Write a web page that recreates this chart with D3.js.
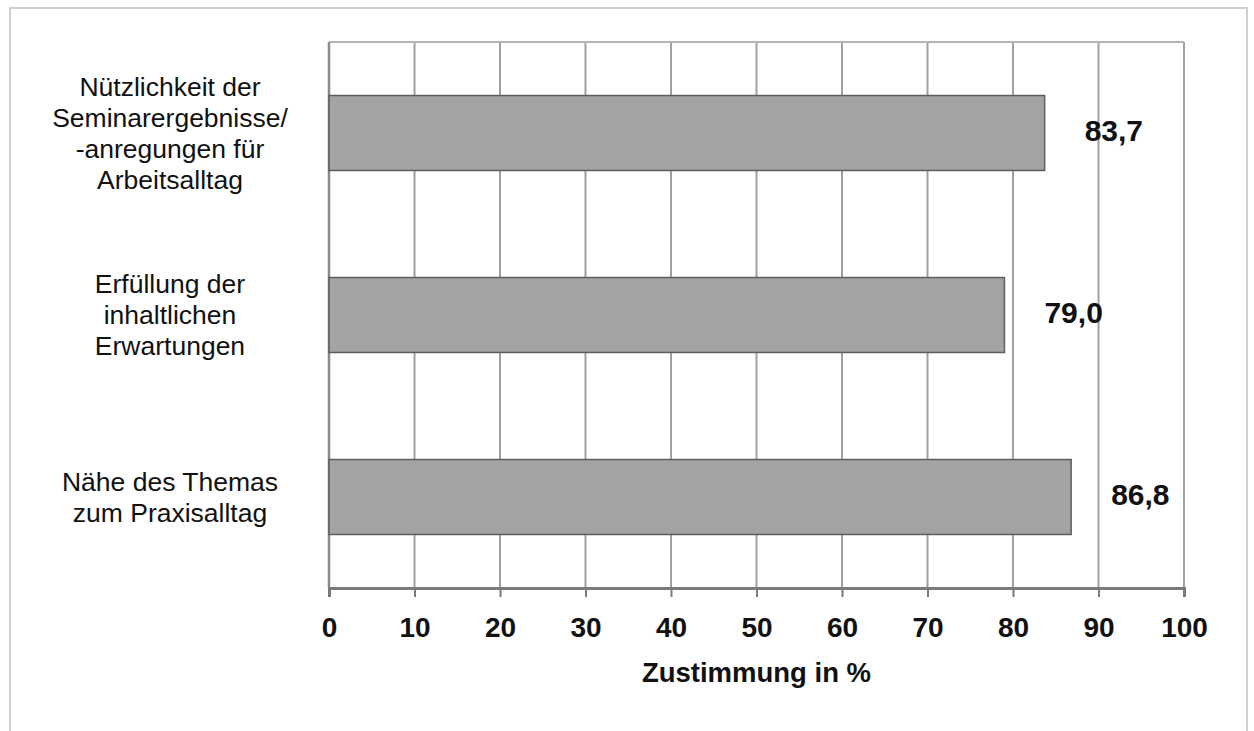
<!DOCTYPE html>
<html lang="de">
<head>
<meta charset="utf-8">
<script src="https://cdn.jsdelivr.net/npm/d3@7"></script>
<style>
  html, body { margin: 0; padding: 0; background: #fff; }
  svg { display: block; }
  text { font-family: "Liberation Sans", Arial, Helvetica, sans-serif; fill: #111; }
</style>
</head>
<body>
<svg id="chart" width="1254" height="731"></svg>
<script>
// Category labels (each entry is one label split into its lines)
const categories = [
  ["Nützlichkeit der", "Seminarergebnisse/", "-anregungen für", "Arbeitsalltag"],
  ["Erfüllung der", "inhaltlichen", "Erwartungen"],
  ["Nähe des Themas", "zum Praxisalltag"]
];
// Agreement in percent, one value per category
const values = [83.7, 79.0, 86.8];
// Axis ticks
const xTicks = [0, 10, 20, 30, 40, 50, 60, 70, 80, 90, 100];
const xTitle = "Zustimmung in %";

const svg = d3.select("#chart");
const W = 1254, H = 731;
const plot = { left: 329, right: 1184, top: 42, bottom: 588 };

const de = d3.formatLocale({ decimal: ",", thousands: ".", grouping: [3], currency: ["", " €"] });
const fmt = de.format(".1f");

// Outer frame (open at the bottom)
svg.append("path")
  .attr("d", `M10,${H} L10,8 L1247,8 L1247,${H}`)
  .attr("fill", "none")
  .attr("stroke", "#cfcfcf")
  .attr("stroke-width", 2);

const x = d3.scaleLinear().domain([0, 100]).range([plot.left, plot.right]);
const y = d3.scaleBand()
  .domain(d3.range(values.length))
  .range([plot.top, plot.bottom])
  .paddingInner(0.588)
  .paddingOuter(0.294);

// Vertical gridlines
svg.append("g")
  .selectAll("line")
  .data(xTicks.filter(d => d > 0))
  .join("line")
  .attr("x1", d => x(d)).attr("x2", d => x(d))
  .attr("y1", plot.top).attr("y2", plot.bottom)
  .attr("stroke", "#a0a0a0")
  .attr("stroke-width", 2);

// Top edge of the plot area
svg.append("line")
  .attr("x1", plot.left).attr("x2", plot.right)
  .attr("y1", plot.top).attr("y2", plot.top)
  .attr("stroke", "#b4b4b4")
  .attr("stroke-width", 2);

// Left axis line
svg.append("line")
  .attr("x1", plot.left).attr("x2", plot.left)
  .attr("y1", plot.top).attr("y2", plot.bottom)
  .attr("stroke", "#8a8a8a")
  .attr("stroke-width", 2.5);

// Bars
svg.append("g")
  .selectAll("rect")
  .data(values)
  .join("rect")
  .attr("x", x(0))
  .attr("y", (d, i) => y(i))
  .attr("width", d => x(d) - x(0))
  .attr("height", y.bandwidth())
  .attr("fill", "#a3a3a3")
  .attr("stroke", "#5e5e5e")
  .attr("stroke-width", 1.5);

// Value labels
svg.append("g")
  .selectAll("text")
  .data(values)
  .join("text")
  .attr("x", d => x(d) + 40)
  .attr("y", (d, i) => y(i) + y.bandwidth() / 2 - 3)
  .attr("dominant-baseline", "central")
  .attr("font-size", 30)
  .attr("font-weight", "bold")
  .text(d => fmt(d));

// Category labels
const catG = svg.append("g");
const lineH = 31;
categories.forEach((lines, i) => {
  const cy = y(i) + y.bandwidth() / 2;
  const t = catG.append("text")
    .attr("x", 170)
    .attr("text-anchor", "middle")
    .attr("font-size", 26.5);
  lines.forEach((ln, k) => {
    t.append("tspan")
      .attr("x", 170)
      .attr("y", cy + (k - (lines.length - 1) / 2) * lineH)
      .attr("dominant-baseline", "central")
      .text(ln);
  });
});

// Bottom axis
const xAxis = d3.axisBottom(x)
  .tickValues(xTicks)
  .tickSize(9)
  .tickPadding(20)
  .tickFormat(d3.format("d"));
const gx = svg.append("g")
  .attr("transform", `translate(0,${plot.bottom})`)
  .call(xAxis);
gx.select(".domain").attr("stroke", "#7a7a7a").attr("stroke-width", 3);
gx.selectAll(".tick line").attr("stroke", "#7a7a7a").attr("stroke-width", 2);
gx.selectAll(".tick text")
  .attr("font-family", "'Liberation Sans', Arial, Helvetica, sans-serif")
  .attr("font-size", 28)
  .attr("font-weight", "bold")
  .attr("fill", "#1a1a1a");

// Axis title
svg.append("text")
  .attr("x", (plot.left + plot.right) / 2)
  .attr("y", 682)
  .attr("text-anchor", "middle")
  .attr("font-size", 27.5)
  .attr("font-weight", "bold")
  .text(xTitle);
</script>
</body>
</html>
